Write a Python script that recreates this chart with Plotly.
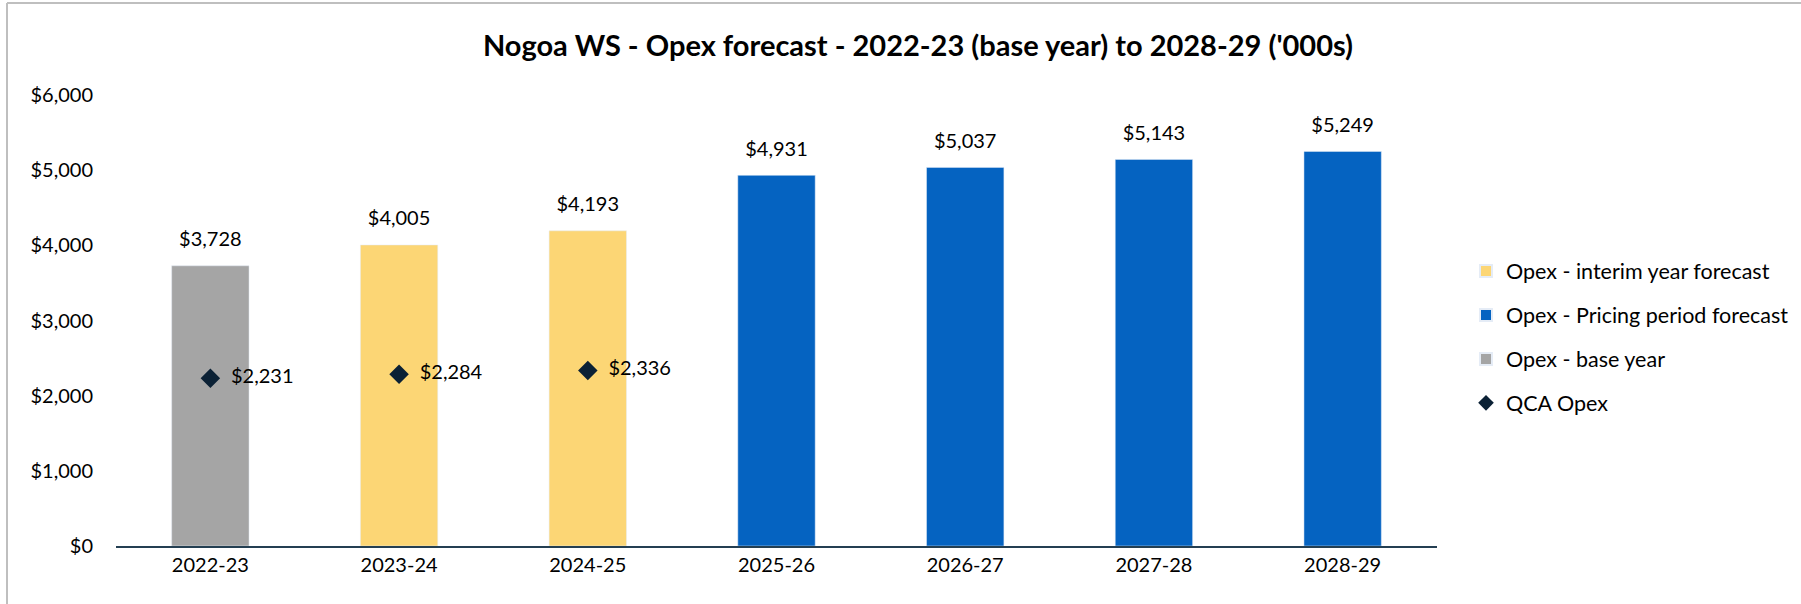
import plotly.graph_objects as go

years = ["2022-23", "2023-24", "2024-25", "2025-26", "2026-27", "2027-28", "2028-29"]
base_year = [3728, None, None, None, None, None, None]
interim = [None, 4005, 4193, None, None, None, None]
pricing = [None, None, None, 4931, 5037, 5143, 5249]
qca_years = ["2022-23", "2023-24", "2024-25"]
qca_opex = [2231, 2284, 2336]

W, H = 1801, 604
L, R, T, B = 116, 364, 95, 58
FONT = "Lato"

fig = go.Figure()

series = [
    ("Opex - interim year forecast", interim, "#FCD675"),
    ("Opex - Pricing period forecast", pricing, "#0563C1"),
    ("Opex - base year", base_year, "#A5A5A5"),
]
for i, (name, vals, col) in enumerate(series):
    fig.add_trace(go.Bar(x=years, y=vals, name=name, marker_color=col,
                         legendgroup=str(i), hoverinfo="x+y"))
    # value labels above the bars (invisible marker gives the gap)
    fig.add_trace(go.Scatter(x=years, y=vals, mode="markers+text", showlegend=False,
                             marker=dict(size=22, opacity=0), hoverinfo="skip",
                             texttemplate="$%{y:,.0f}", textposition="top center",
                             textfont=dict(size=20, color="black", family=FONT),
                             legendgroup=str(i), cliponaxis=False))

fig.add_trace(go.Scatter(x=qca_years, y=qca_opex, name="QCA Opex", mode="markers+text",
                         marker=dict(symbol="diamond", size=15, color="#0B2135"),
                         texttemplate="  $%{y:,.0f}", textposition="middle right",
                         textfont=dict(size=20, color="black", family=FONT),
                         legendgroup="3", cliponaxis=False))

# light grey chart-area border (left and top edges)
px = lambda x: (x - L) / (W - L - R)
py = lambda y: (H - B - y) / (H - T - B)
fig.add_shape(type="line", xref="paper", yref="paper", x0=px(7), x1=px(W + 5),
              y0=py(3), y1=py(3), line=dict(color="#BFBFBF", width=2))
fig.add_shape(type="line", xref="paper", yref="paper", x0=px(7), x1=px(7),
              y0=py(3), y1=py(H + 5), line=dict(color="#BFBFBF", width=2))

fig.update_layout(
    width=W, height=H,
    margin=dict(l=L, r=R, t=T, b=B, autoexpand=False),
    barmode="overlay", bargap=0.59,
    plot_bgcolor="white", paper_bgcolor="white",
    font=dict(family=FONT, size=20, color="black"),
    title=dict(text="<b>Nogoa WS - Opex forecast - 2022-23 (base year) to 2028-29 ('000s)</b>",
               x=918 / W, xanchor="center", xref="container",
               y=1 - 46 / H, yanchor="middle", yref="container",
               font=dict(size=29, family=FONT, color="black")),
    legend=dict(x=1466 / W, xref="container", xanchor="left", y=py(337), yanchor="middle",
                tracegroupgap=13, font=dict(size=21.5, family=FONT, color="black"),
                traceorder="grouped", itemsizing="constant"),
    showlegend=True,
)
fig.update_xaxes(showline=True, linecolor="#243F52", linewidth=2, ticks="",
                 tickfont=dict(size=20), showgrid=False)
fig.update_yaxes(range=[0, 6000], dtick=1000, tickprefix="$", tickformat=",.0f",
                 showgrid=False, zeroline=False, showline=False,
                 tickfont=dict(size=20), ticklabelstandoff=22)

fig.write_html("out.html", config={"displayModeBar": False},
               post_script="document.body.style.margin='0';")
